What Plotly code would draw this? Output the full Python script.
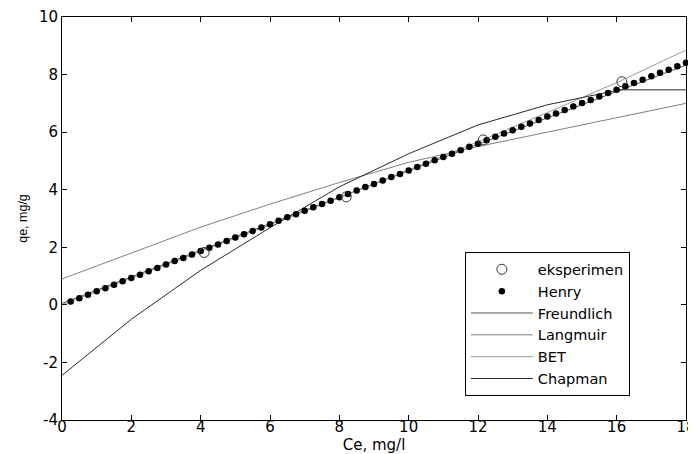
import plotly.graph_objects as go

# Experimental data
exp_x = [4.1, 8.2, 12.15, 16.15]
exp_y = [1.82, 3.75, 5.73, 7.75]

# Henry model points
henry_x = [0.25, 0.5, 0.75, 1.0, 1.25, 1.5, 1.75, 2.0, 2.25, 2.5, 2.75, 3.0,
           3.25, 3.5, 3.75, 4.0, 4.25, 4.5, 4.75, 5.0, 5.25, 5.5, 5.75, 6.0,
           6.25, 6.5, 6.75, 7.0, 7.25, 7.5, 7.75, 8.0, 8.25, 8.5, 8.75, 9.0,
           9.25, 9.5, 9.75, 10.0, 10.25, 10.5, 10.75, 11.0, 11.25, 11.5, 11.75, 12.0,
           12.25, 12.5, 12.75, 13.0, 13.25, 13.5, 13.75, 14.0, 14.25, 14.5, 14.75, 15.0,
           15.25, 15.5, 15.75, 16.0, 16.25, 16.5, 16.75, 17.0, 17.25, 17.5, 17.75, 18.0]
henry_y = [0.12, 0.23, 0.35, 0.47, 0.58, 0.70, 0.82, 0.93, 1.05, 1.17, 1.28, 1.40,
           1.52, 1.63, 1.75, 1.87, 1.98, 2.10, 2.22, 2.34, 2.45, 2.57, 2.69, 2.80,
           2.92, 3.04, 3.15, 3.27, 3.39, 3.50, 3.62, 3.74, 3.85, 3.97, 4.09, 4.20,
           4.32, 4.44, 4.55, 4.67, 4.79, 4.90, 5.02, 5.14, 5.25, 5.37, 5.49, 5.60,
           5.72, 5.84, 5.95, 6.07, 6.19, 6.30, 6.42, 6.54, 6.65, 6.77, 6.89, 7.01,
           7.12, 7.24, 7.36, 7.47, 7.59, 7.71, 7.82, 7.94, 8.06, 8.17, 8.29, 8.41]

# Model curves
model_x = [0, 2, 4, 6, 8, 10, 12, 14, 16, 18]
freundlich_y = [0.05, 0.98, 1.90, 2.82, 3.74, 4.66, 5.58, 6.50, 7.42, 8.33]
langmuir_y = [0.90, 1.80, 2.70, 3.50, 4.25, 4.95, 5.50, 6.00, 6.50, 7.00]
bet_y = [0.00, 0.92, 1.85, 2.78, 3.72, 4.68, 5.66, 6.68, 7.72, 8.85]
chapman_x = [0, 2, 4, 6, 8, 10, 12, 14, 16, 16.1, 18]
chapman_y = [-2.45, -0.50, 1.20, 2.68, 4.10, 5.25, 6.25, 6.95, 7.45, 7.47, 7.47]

# Tick labels
x_ticks = [0, 2, 4, 6, 8, 10, 12, 14, 16, 18]
x_ticklabels = ["0", "2", "4", "6", "8", "10", "12", "14", "16", "18"]
y_ticks = [-4, -2, 0, 2, 4, 6, 8, 10]
y_ticklabels = ["-4", "-2", "0", "2", "4", "6", "8", "10"]

WIDE = "DejaVu Sans, Verdana, sans-serif"
NARROW = "Liberation Sans, Arial, sans-serif"

fig = go.Figure()

fig.add_trace(go.Scatter(x=model_x, y=freundlich_y, mode="lines", name="Freundlich",
                         line=dict(color="#555555", width=1), legendrank=3))
fig.add_trace(go.Scatter(x=model_x, y=langmuir_y, mode="lines", name="Langmuir",
                         line=dict(color="#808080", width=1), legendrank=4))
fig.add_trace(go.Scatter(x=model_x, y=bet_y, mode="lines", name="BET",
                         line=dict(color="#9a9a9a", width=1), legendrank=5))
fig.add_trace(go.Scatter(x=chapman_x, y=chapman_y, mode="lines", name="Chapman",
                         line=dict(color="#2a2a2a", width=1), legendrank=6))
fig.add_trace(go.Scatter(x=henry_x, y=henry_y, mode="markers", name="Henry",
                         marker=dict(symbol="circle", size=6.5, color="black"),
                         cliponaxis=False, legendrank=2))
fig.add_trace(go.Scatter(x=exp_x, y=exp_y, mode="markers", name="eksperimen",
                         marker=dict(symbol="circle-open", size=10, color="#333333",
                                     line=dict(width=1)),
                         cliponaxis=False, legendrank=1))

axis_common = dict(showline=True, linecolor="black", linewidth=1, mirror="ticks",
                   ticks="inside", ticklen=5, tickcolor="black", tickwidth=1,
                   showgrid=False, zeroline=False, automargin=False,
                   tickfont=dict(family=WIDE, size=15, color="black"))

# The page body has an 8px default margin, so the figure is sized to fit the
# 696x454 window with that offset.
fig.update_layout(
    width=688, height=446,
    margin=dict(l=54, r=10, t=9, b=34),
    paper_bgcolor="white", plot_bgcolor="white",
    font=dict(family=WIDE, size=15, color="black"),
    xaxis=dict(range=[0, 18], tickvals=x_ticks, ticktext=x_ticklabels,
               ticklabelstandoff=-7,
               title=dict(text="Ce, mg/l", font=dict(family=WIDE, size=15), standoff=4),
               **axis_common),
    yaxis=dict(range=[-4, 10], tickvals=y_ticks, ticktext=y_ticklabels,
               title=dict(text="qe, mg/g", font=dict(family=NARROW, size=12.5), standoff=8),
               **axis_common),
    legend=dict(x=0.6456, y=0.416, xanchor="left", yanchor="top",
                bgcolor="white", bordercolor="black", borderwidth=1,
                font=dict(family=WIDE, size=14.5), itemwidth=62, tracegroupgap=0),
    showlegend=True,
)

fig.write_html("out.html")
